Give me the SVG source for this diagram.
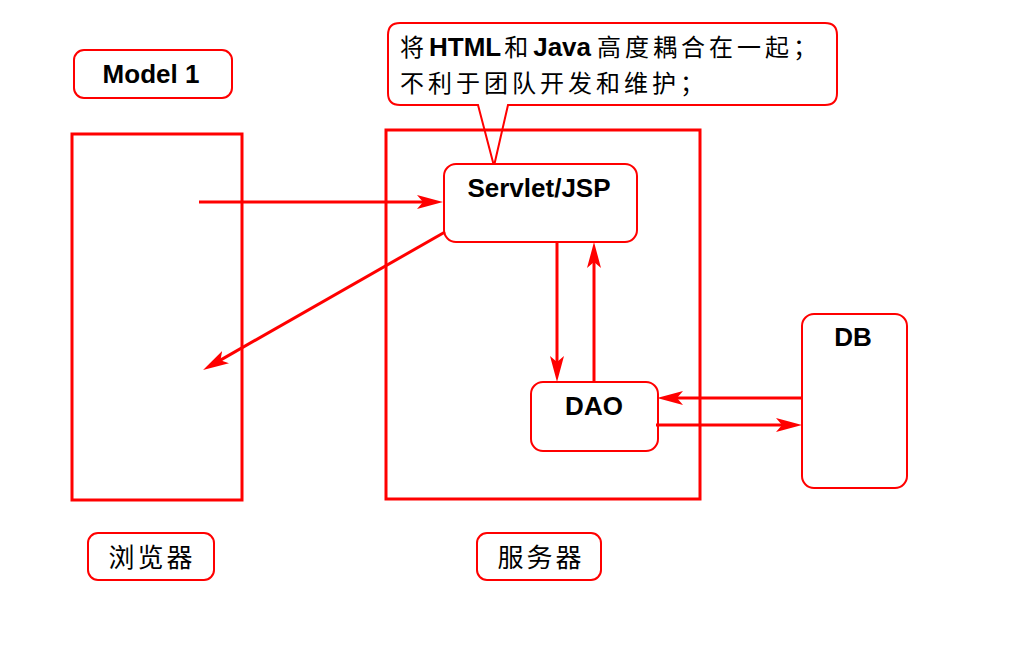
<svg xmlns="http://www.w3.org/2000/svg" width="1024" height="664" viewBox="0 0 1024 664">
<style>
.frame{fill:none;stroke:#ff0000;stroke-width:3}
.box{fill:#ffffff;stroke:#ff0000;stroke-width:2}
.conn{fill:none;stroke:#ff0000;stroke-width:3;marker-end:url(#ah)}
.lb{font-family:"Liberation Sans",Arial,sans-serif;font-weight:bold;font-size:26px;fill:#000}
.cjk{font-family:"Noto Sans CJK SC","Noto Sans",sans-serif;font-size:24px;letter-spacing:4px;fill:#000}
.lat{font-family:"Liberation Sans",Arial,sans-serif;font-weight:bold;font-size:26px;letter-spacing:0}
</style>
<defs>
<marker id="ah" viewBox="0 0 26 14" refX="15" refY="7" markerWidth="26" markerHeight="14" markerUnits="userSpaceOnUse" orient="auto">
<path d="M0,0 L26,7 L0,14 L6,7 Z" fill="#ff0000"/>
</marker>
</defs>
<rect width="1024" height="664" fill="#ffffff"/>

<g id="callout">
<path class="box" d="M400,23 H825 Q837,23 837,35 V93 Q837,105 825,105 H508 L494,166 L478,105 H400 Q388,105 388,93 V35 Q388,23 400,23 Z"/>
<text class="cjk" x="400" y="56">将<tspan class="lat" dx="1">HTML</tspan><tspan dx="3">和</tspan><tspan class="lat" dx="1">Java</tspan><tspan dx="6">高度耦合在一起；</tspan></text>
<text class="cjk" x="400" y="92">不利于团队开发和维护；</text>
</g>

<g id="model1">
<rect class="box" x="74" y="50" width="158" height="48" rx="10"/>
<text class="lb" x="151" y="83" text-anchor="middle">Model 1</text>
</g>

<g id="browser">
<rect class="frame" x="72" y="134" width="170" height="366"/>
</g>

<g id="server">
<rect class="frame" x="386" y="130" width="314" height="369"/>
</g>

<g id="servlet">
<rect class="box" x="444" y="164" width="193" height="78" rx="12"/>
<text class="lb" x="539" y="197" text-anchor="middle">Servlet/JSP</text>
</g>

<g id="dao">
<rect class="box" x="531" y="382" width="127" height="69" rx="12"/>
<text class="lb" x="594" y="415" text-anchor="middle">DAO</text>
</g>

<g id="db">
<rect class="box" x="802" y="314" width="105" height="174" rx="12"/>
<text class="lb" x="853" y="346" text-anchor="middle">DB</text>
</g>

<g id="browser-label">
<rect class="box" x="88" y="533" width="126" height="47" rx="10"/>
<text class="cjk" x="152" y="567" text-anchor="middle" style="font-size:26px;letter-spacing:3px">浏览器</text>
</g>

<g id="server-label">
<rect class="box" x="477" y="533" width="124" height="47" rx="10"/>
<text class="cjk" x="541" y="567" text-anchor="middle" style="font-size:26px;letter-spacing:3px">服务器</text>
</g>

<g id="connectors">
<line class="conn" x1="199" y1="202" x2="432" y2="202"/>
<line class="conn" x1="445" y1="232" x2="212.6" y2="364.6"/>
<line class="conn" x1="557" y1="242" x2="557" y2="371"/>
<line class="conn" x1="594" y1="382" x2="594" y2="253"/>
<line class="conn" x1="802" y1="398" x2="668" y2="398"/>
<line class="conn" x1="656" y1="425" x2="791" y2="425"/>
</g>
</svg>
